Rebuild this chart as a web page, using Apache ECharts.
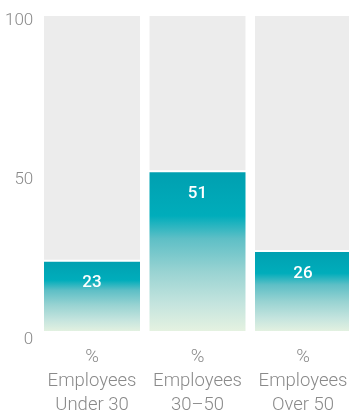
<!DOCTYPE html>
<html>
<head>
<meta charset="utf-8">
<script src="https://cdn.jsdelivr.net/npm/echarts@6/dist/echarts.min.js"></script>
<style>html,body{margin:0;padding:0;background:#fff;}#c{width:349px;height:412px;}</style>
</head>
<body>
<div id="c"></div>
<script>
var categories = ['%\nEmployees\nUnder 30', '%\nEmployees\n30\u201350', '%\nEmployees\nOver 50'];
var values = [23, 51, 26];
var fullValues = [100, 100, 100];
var yTicks = [0, 50, 100];

var chart = echarts.init(document.getElementById('c'), null, {renderer: 'canvas'});
var font = 'Roboto, "Noto Sans", sans-serif';
chart.setOption({
  animation: false,
  grid: {left: 39.25, top: 14, width: 316.5, height: 319, containLabel: false, outerBoundsMode: 'none'},
  xAxis: {
    type: 'category', data: categories,
    axisLine: {show: false}, axisTick: {show: false},
    axisLabel: {color: '#8a8a8a', fontSize: 18.5, fontWeight: 300, fontFamily: font, lineHeight: 24, margin: 12, interval: 0}
  },
  yAxis: {
    type: 'value', min: yTicks[0], max: yTicks[yTicks.length - 1], interval: 50,
    splitLine: {show: false}, axisLine: {show: false}, axisTick: {show: false},
    axisLabel: {color: '#8a8a8a', fontSize: 17, fontWeight: 300, fontFamily: font, margin: 6, verticalAlign: 'top', lineHeight: 13}
  },
  series: [
    {
      type: 'bar', data: fullValues, barWidth: 100, barGap: '-100%', silent: true, z: 1,
      itemStyle: {color: '#ececec', borderColor: '#fff', borderWidth: 2}
    },
    {
      type: 'bar', data: values, barWidth: 100, z: 2,
      itemStyle: {
        borderColor: '#fff', borderWidth: 2,
        color: new echarts.graphic.LinearGradient(0, 0, 0, 1, [
          {offset: 0, color: '#009fb0'},
          {offset: 0.28, color: '#00adbb'},
          {offset: 0.42, color: '#5ebfc6'},
          {offset: 0.62, color: '#98d3d2'},
          {offset: 0.82, color: '#c4e4de'},
          {offset: 1, color: '#e7f3e1'}
        ])
      },
      label: {show: true, position: 'insideTop', distance: 15, color: '#fff', fontSize: 17, fontWeight: 500, fontFamily: font}
    }
  ]
});
</script>
</body>
</html>
